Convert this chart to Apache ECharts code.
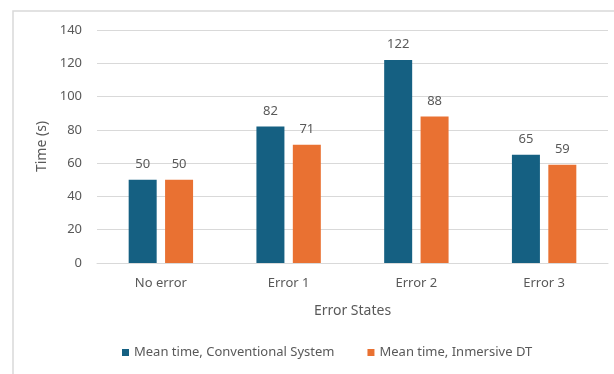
<!DOCTYPE html>
<html>
<head>
<meta charset="utf-8">
<script src="https://cdn.jsdelivr.net/npm/echarts@6/dist/echarts.min.js"></script>
<style>
  html, body { margin: 0; padding: 0; background: #ffffff; }
  #chart { width: 614px; height: 374px; }
</style>
</head>
<body>
<div id="chart"></div>
<script>
// Mean task completion time per error state
const categories = ['No error', 'Error 1', 'Error 2', 'Error 3'];
const conventional = [50, 82, 122, 65];
const immersive = [50, 71, 88, 59];
const seriesNames = ['Mean time, Conventional System', 'Mean time, Inmersive DT'];

const FONT = 'Noto Sans';
const TEXT = '#595959';

const chart = echarts.init(document.getElementById('chart'), null, { renderer: 'canvas' });

const labelStyle = {
  show: true,
  position: 'top',
  distance: 9,
  color: '#595959',
  fontFamily: FONT,
  fontSize: 13
};

chart.setOption({
  animation: false,
  backgroundColor: '#ffffff',
  graphic: [{
    type: 'rect',
    shape: { x: 13, y: 11, width: 620, height: 400 },
    style: { fill: 'none', stroke: '#d9d9d9', lineWidth: 1.5 },
    silent: true,
    z: -1
  }],
  grid: { left: 97, right: 6, top: 30, bottom: 111 },
  legend: {
    bottom: 10,
    left: 117,
    itemWidth: 7,
    itemHeight: 7,
    itemGap: 33,
    icon: 'rect',
    textStyle: { color: TEXT, fontFamily: FONT, fontSize: 13 },
    data: seriesNames
  },
  xAxis: {
    type: 'category',
    data: categories,
    name: 'Error States',
    nameLocation: 'middle',
    nameGap: 41,
    nameTextStyle: { color: TEXT, fontFamily: FONT, fontSize: 14 },
    axisLine: { show: true, lineStyle: { color: '#d9d9d9' } },
    axisTick: { show: false },
    axisLabel: { color: TEXT, fontFamily: FONT, fontSize: 13, margin: 14 }
  },
  yAxis: {
    type: 'value',
    min: 0,
    max: 140,
    interval: 20,
    name: 'Time (s)',
    nameLocation: 'middle',
    nameRotate: 90,
    nameGap: 45,
    nameTextStyle: { color: TEXT, fontFamily: FONT, fontSize: 14 },
    axisLine: { show: false },
    axisTick: { show: false },
    axisLabel: { color: TEXT, fontFamily: FONT, fontSize: 13, margin: 15 },
    splitLine: { lineStyle: { color: '#d9d9d9', width: 1 } }
  },
  series: [
    {
      name: seriesNames[0],
      type: 'bar',
      data: conventional,
      barWidth: 28,
      barGap: '30%',
      itemStyle: { color: '#156082' },
      label: labelStyle
    },
    {
      name: seriesNames[1],
      type: 'bar',
      data: immersive,
      barWidth: 28,
      itemStyle: { color: '#e97132' },
      label: labelStyle
    }
  ]
});
</script>
</body>
</html>
